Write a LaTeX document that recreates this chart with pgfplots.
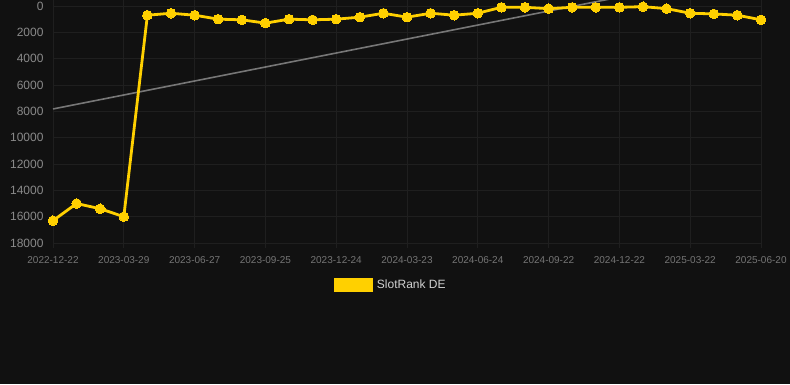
\documentclass[border=0pt]{standalone}
\usepackage{pgfplots}
\pgfplotsset{compat=1.18}
\usepackage{fontspec}
\setmainfont{Liberation Sans}
\definecolor{bg}{HTML}{111111}
\definecolor{slotyellow}{HTML}{FFD000}
\definecolor{gridc}{HTML}{1F1F1F}
\definecolor{tickc}{HTML}{8A8A8A}
\definecolor{trendc}{HTML}{777777}
\begin{document}
\begin{tikzpicture}[x=1pt,y=1pt]
\fill[bg] (0,0) rectangle (790,384);
\begin{axis}[
  at={(53pt,141pt)}, anchor=south west,
  scale only axis, width=708pt, height=243pt,
  xmin=0, xmax=30, ymin=-455, ymax=18000,
  y dir=reverse,
  clip=true,
  scaled y ticks=false,
  xtick={0,3,...,30},
  xticklabels={2022-12-22,2023-03-29,2023-06-27,2023-09-25,2023-12-24,2024-03-23,2024-06-24,2024-09-22,2024-12-22,2025-03-22,2025-06-20},
  ytick={0,2000,...,18000},
  grid=major,
  grid style={gridc, line width=0.8pt},
  axis line style={draw=none},
  xtick pos=bottom, xtick align=outside, ytick pos=left,
  major tick length=5pt,
  xtick style={draw=gridc, line width=0.8pt},
  ytick style={draw=none},
  /pgf/number format/assume math mode=true,
  /pgf/number format/1000 sep={},
  yticklabel style={font=\fontsize{12}{14}\selectfont, text=tickc, xshift=-6pt},
  xticklabel style={font=\fontsize{10}{12}\selectfont, text=tickc!85!black, yshift=-5pt},
  legend style={at={(0.478,-0.173)}, anchor=center, draw=none, fill=none,
    text=white!82!black, font=\fontsize{12}{14}\selectfont,
    legend cell align=left, inner sep=0pt, nodes={inner xsep=3.5pt}},
  legend image code/.code={\fill[slotyellow] (0pt,-5.5pt) rectangle (37pt,5.5pt);},
]
\addplot[trendc, line width=1.6pt, forget plot] coordinates {(0,7820) (30,-2800)};
\addplot[slotyellow, line width=2.8pt, mark=*, mark size=4.8pt, mark options={fill=slotyellow, draw=slotyellow, line width=0pt}] coordinates {
(0,16300) (1,15000) (2,15400) (3,16000) (4,700) (5,550) (6,700) (7,1000) (8,1050) (9,1300)
(10,1000) (11,1050) (12,1000) (13,850) (14,550) (15,850) (16,550) (17,700) (18,550) (19,100)
(20,100) (21,200) (22,100) (23,100) (24,100) (25,50) (26,200) (27,550) (28,600) (29,700) (30,1050)
};
\addlegendentry{SlotRank DE}
\end{axis}
\pgfresetboundingbox
\useasboundingbox (0,0) rectangle (790,384);
\end{tikzpicture}
\end{document}
